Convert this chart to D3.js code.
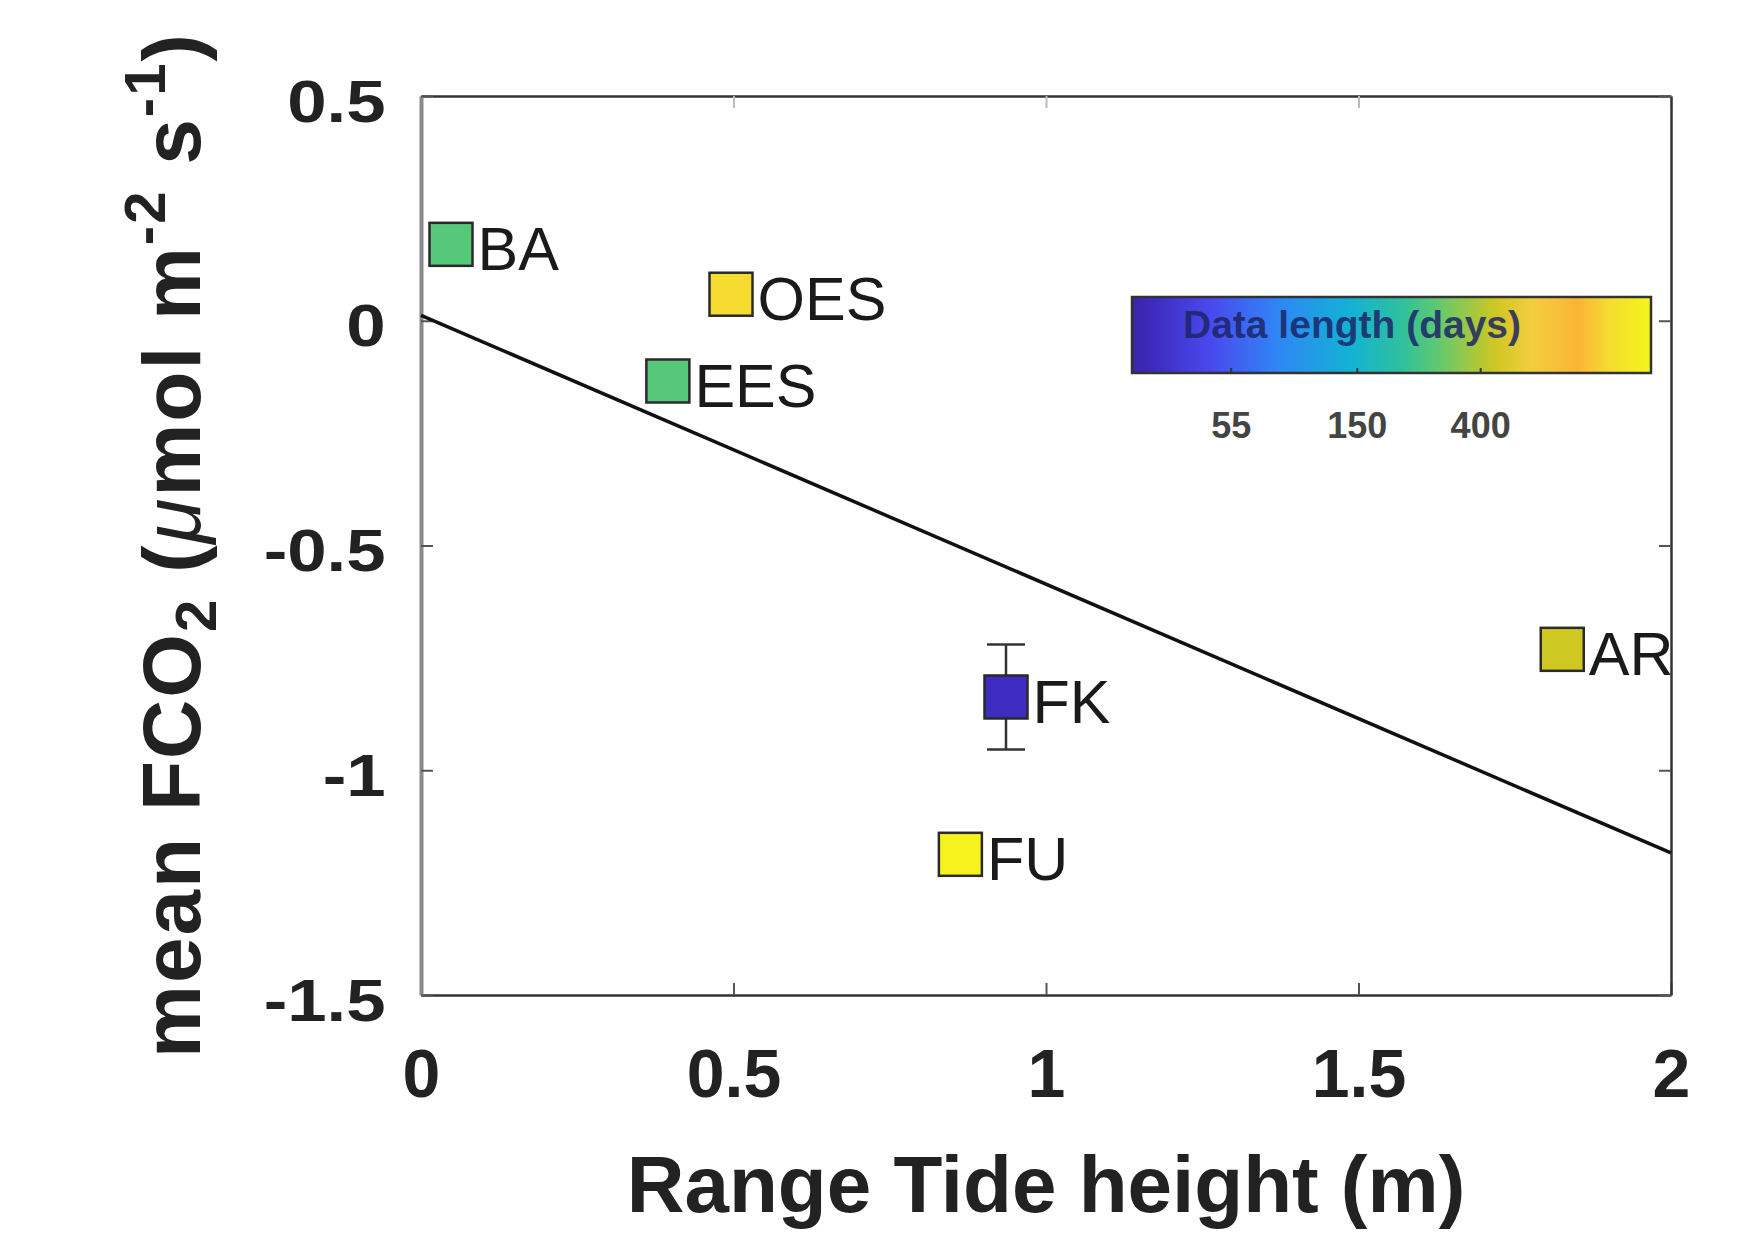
<!DOCTYPE html>
<html>
<head>
<meta charset="utf-8">
<script src="https://cdn.jsdelivr.net/npm/d3@7"></script>
<style>
  body { margin: 0; background: #fff; }
  svg { display: block; font-family: "Liberation Sans", Arial, sans-serif; }
</style>
</head>
<body>
<svg id="chart" width="1737" height="1234"></svg>
<script>
// site data
const sites = ["BA", "OES", "EES", "FK", "FU", "AR"];
const tideRange = [0.048, 0.496, 0.395, 0.936, 0.863, 1.826];
const meanFlux = [0.17, 0.059, -0.134, -0.837, -1.187, -0.731];
const fluxErr = [0, 0, 0, 0.117, 0, 0];
const dataLength = [270, 1100, 270, 30, 1480, 450];

// regression line end points
const fitX = [0, 2];
const fitY = [0.012, -1.184];

const xTicks = [0, 0.5, 1, 1.5, 2];
const yTicks = [-1.5, -1, -0.5, 0, 0.5];
const cbarTicks = [55, 150, 400];

// parula-like colour map stops
const cmapPos = [0, 0.04, 0.15, 0.28, 0.42, 0.52, 0.58, 0.66, 0.70, 0.77, 0.86, 0.92, 1];
const cmapCol = ["#3a26a6", "#3d2bbd", "#4a48ee", "#2f86f5", "#12b2d5", "#30c09c",
                 "#58c878", "#a8c83c", "#cfc722", "#f3cd3e", "#fbb535", "#f5dc30", "#f5f51a"];

const svg = d3.select("#chart");
const margin = { top: 96, right: 66, bottom: 239, left: 421 };
const width = 1737, height = 1234;

const x = d3.scaleLinear().domain([0, 2]).range([margin.left, width - margin.right]);
const y = d3.scaleLinear().domain([-1.5, 0.5]).range([height - margin.bottom, margin.top]);

const cmap = d3.scaleLinear().domain(cmapPos).range(cmapCol).interpolate(d3.interpolateRgb);
const lenScale = d3.scaleLog().domain([25, 1550]).range([0, 1]).clamp(true);
const colorOf = d => cmap(lenScale(d));

// plain hyphen minus like matlab
const fmt = d => String(d);

// Axes (MATLAB style box, ticks inward)
const tickLen = 12;
const bottomAxis = svg.append("g")
    .attr("transform", `translate(0, ${y(-1.5)})`)
    .call(d3.axisBottom(x).tickValues(xTicks).tickFormat(fmt).tickSizeInner(-tickLen).tickSizeOuter(0).tickPadding(54));
const topAxis = svg.append("g")
    .attr("transform", `translate(0, ${y(0.5)})`)
    .call(d3.axisTop(x).tickValues(xTicks).tickSizeInner(-tickLen).tickSizeOuter(0).tickFormat(""));
const leftAxis = svg.append("g")
    .attr("transform", `translate(${x(0)}, 0)`)
    .call(d3.axisLeft(y).tickValues(yTicks).tickFormat(fmt).tickSizeInner(-tickLen).tickSizeOuter(0).tickPadding(30));
const rightAxis = svg.append("g")
    .attr("transform", `translate(${x(2)}, 0)`)
    .call(d3.axisRight(y).tickValues(yTicks).tickSizeInner(-tickLen).tickSizeOuter(0).tickFormat(""));

[bottomAxis, topAxis, leftAxis, rightAxis].forEach(g => {
    g.select(".domain").attr("stroke", "#333").attr("stroke-width", 2.5);
    g.selectAll(".tick line").attr("stroke", "#555").attr("stroke-width", 2);
});
leftAxis.select(".domain").attr("stroke", "#8a8a8a").attr("stroke-width", 4);
topAxis.selectAll(".tick line").attr("stroke", "#bbb");

bottomAxis.selectAll(".tick text")
    .attr("font-size", 68).attr("font-weight", "bold").attr("fill", "#222")
    .attr("font-family", "Liberation Sans, Arial, sans-serif");
leftAxis.selectAll(".tick text")
    .attr("font-size", 60).attr("font-weight", "bold").attr("fill", "#222")
    .attr("font-family", "Liberation Sans, Arial, sans-serif")
    .attr("dy", "0.42em")
    .attr("transform", "scale(1.18,1)");

// Axis labels
svg.append("text")
    .attr("x", (x(0) + x(2)) / 2)
    .attr("y", 1212)
    .attr("text-anchor", "middle")
    .attr("font-size", 80).attr("font-weight", "bold").attr("fill", "#222")
    .text("Range Tide height (m)");

const yl = svg.append("text")
    .attr("transform", "rotate(-90)")
    .attr("x", -1058)
    .attr("y", 200)
    .attr("text-anchor", "start")
    .attr("font-size", 82).attr("font-weight", "bold").attr("fill", "#222")
    .attr("letter-spacing", 2);
yl.append("tspan").text("mean FCO");
yl.append("tspan").attr("font-size", 58).attr("dy", 16).text("2");
yl.append("tspan").attr("dy", -16).text(" (");
yl.append("tspan").attr("font-style", "italic").attr("font-weight", "normal").text("\u03BC");
yl.append("tspan").text("mol m");
yl.append("tspan").attr("font-size", 58).attr("dy", -35).text("-2");
yl.append("tspan").attr("dy", 35).text(" s");
yl.append("tspan").attr("font-size", 58).attr("dy", -35).text("-1");
yl.append("tspan").attr("dy", 35).text(")");

// Regression line
svg.append("path")
    .datum(d3.zip(fitX, fitY))
    .attr("fill", "none")
    .attr("stroke", "#111")
    .attr("stroke-width", 3.5)
    .attr("d", d3.line().x(d => x(d[0])).y(d => y(d[1])));

// Points
const pts = sites.map((s, i) => ({ s, tx: tideRange[i], fy: meanFlux[i], err: fluxErr[i], len: dataLength[i] }));
const side = 43;

// error bars
const eb = svg.append("g").selectAll("g").data(pts.filter(d => d.err > 0)).enter().append("g")
    .attr("stroke", "#333").attr("stroke-width", 2.5);
eb.append("line")
    .attr("x1", d => x(d.tx)).attr("x2", d => x(d.tx))
    .attr("y1", d => y(d.fy + d.err)).attr("y2", d => y(d.fy - d.err));
eb.append("line")
    .attr("x1", d => x(d.tx) - 19).attr("x2", d => x(d.tx) + 19)
    .attr("y1", d => y(d.fy + d.err)).attr("y2", d => y(d.fy + d.err));
eb.append("line")
    .attr("x1", d => x(d.tx) - 19).attr("x2", d => x(d.tx) + 19)
    .attr("y1", d => y(d.fy - d.err)).attr("y2", d => y(d.fy - d.err));

svg.append("g").selectAll("rect").data(pts).enter().append("rect")
    .attr("x", d => x(d.tx) - side / 2)
    .attr("y", d => y(d.fy) - side / 2)
    .attr("width", side).attr("height", side)
    .attr("fill", d => colorOf(d.len))
    .attr("stroke", "#2a2a2a").attr("stroke-width", 2.5);

svg.append("g").selectAll("text").data(pts).enter().append("text")
    .attr("x", d => x(d.tx) + side / 2 + 5)
    .attr("y", d => y(d.fy) + 26)
    .attr("font-size", 61).attr("fill", "#1a1a1a")
    .text(d => d.s);

// Colour bar
const cb = { x0: 1132, x1: 1651, y0: 297, y1: 373 };
const cbx = d3.scaleLog().domain(lenScale.domain()).range([cb.x0, cb.x1]);
const grad = svg.append("defs").append("linearGradient").attr("id", "parula");
grad.selectAll("stop").data(cmapPos).enter().append("stop")
    .attr("offset", d => d * 100 + "%")
    .attr("stop-color", (d, i) => cmapCol[i]);
svg.append("rect")
    .attr("x", cb.x0).attr("y", cb.y0)
    .attr("width", cb.x1 - cb.x0).attr("height", cb.y1 - cb.y0)
    .attr("fill", "url(#parula)")
    .attr("stroke", "#333").attr("stroke-width", 2.5);
svg.append("g").selectAll("line").data(cbarTicks).enter().append("line")
    .attr("x1", d => cbx(d)).attr("x2", d => cbx(d))
    .attr("y1", cb.y1).attr("y2", cb.y1 - 5)
    .attr("stroke", "#333").attr("stroke-width", 2);
svg.append("g").selectAll("text").data(cbarTicks).enter().append("text")
    .attr("x", d => cbx(d))
    .attr("y", 438)
    .attr("text-anchor", "middle")
    .attr("font-size", 36).attr("font-weight", "bold").attr("fill", "#444")
    .text(d => d);
svg.append("text")
    .attr("x", 1183).attr("y", 338)
    .attr("font-size", 39).attr("font-weight", "bold")
    .attr("fill", "#1c2566").attr("fill-opacity", 0.85)
    .text("Data length (days)");
</script>
</body>
</html>
